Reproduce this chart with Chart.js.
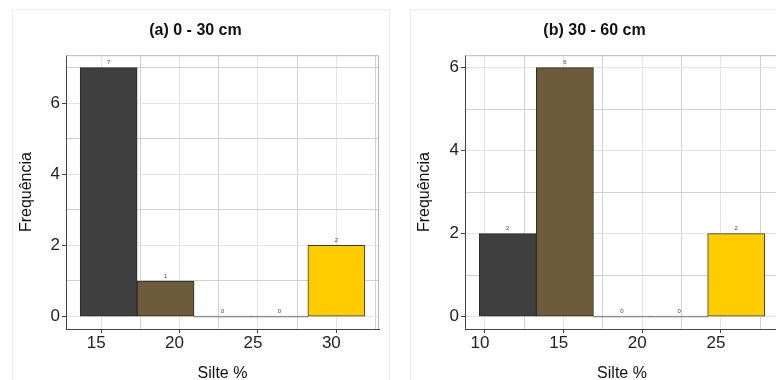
<!DOCTYPE html>
<html>
<head>
<meta charset="utf-8">
<script src="https://cdn.jsdelivr.net/npm/chart.js@4"></script>
<style>
  html, body { margin: 0; padding: 0; background: #fff; }
  body { width: 776px; height: 380px; overflow: hidden; position: relative; }
  .caixa { position: absolute; top: 9px; height: 400px; border: 1px solid #ededed; box-sizing: border-box; }
  .painel { position: absolute; top: 9px; width: 377px; height: 376px; }
</style>
</head>
<body>
<div class="caixa" style="left:12px;width:378px"></div>
<div class="caixa" style="left:410px;width:400px"></div>
<div class="painel" style="left:12px"><canvas id="graficoA"></canvas></div>
<div class="painel" style="left:410px"><canvas id="graficoB"></canvas></div>
<script>
// Dados
const centrosA = [15.48, 19.11, 22.74, 26.37, 30.0];
const frequenciaA = [7, 1, 0, 0, 2];
const ticksXA = [15, 20, 25, 30];

const centrosB = [11.45, 15.08, 18.71, 22.34, 25.97];
const frequenciaB = [2, 6, 0, 0, 2];
const ticksXB = [10, 15, 20, 25];

const ticksY = [0, 2, 4, 6];

const coresBarras = ["#3f3f3f", "#6c5c3b", "#777777", "#777777", "#ffcc00"];
const coresBorda = ["#2a2a2a", "#2a2a2a", "#777777", "#777777", "#3a3a3a"];

const fonte = "'Liberation Sans', Arial, sans-serif";
Chart.defaults.font.family = fonte;

const gradeMaior = "#e4e4e4";
const gradeMenor = "#d0d0d0";

// Rótulos pequenos acima das barras + borda do painel
const rotulosBarras = {
  id: "rotulosBarras",
  beforeDatasetsDraw(chart) {
    const { ctx, chartArea } = chart;
    ctx.save();
    ctx.strokeStyle = "#b5b5b5";
    ctx.lineWidth = 1;
    ctx.beginPath();
    ctx.moveTo(chartArea.left, chartArea.top + 0.5);
    ctx.lineTo(chartArea.right - 0.5, chartArea.top + 0.5);
    ctx.lineTo(chartArea.right - 0.5, chartArea.bottom);
    ctx.stroke();
    ctx.restore();
  },
  afterDatasetsDraw(chart) {
    const { ctx } = chart;
    const meta = chart.getDatasetMeta(0);
    const dados = chart.data.datasets[0].data;
    ctx.save();
    ctx.font = "6px " + fonte;
    ctx.fillStyle = "#444";
    ctx.textAlign = "center";
    ctx.textBaseline = "bottom";
    meta.data.forEach((barra, i) => {
      ctx.fillText(String(dados[i].y), barra.x, Math.min(barra.y, barra.base) - 2);
    });
    ctx.restore();
  },
};

function criarGrafico(id, titulo, centros, frequencia, ticksX, limX, limY, larguraY, padDireita) {
  const dados = centros.map((c, i) => ({ x: c, y: frequencia[i] }));
  return new Chart(document.getElementById(id), {
    type: "bar",
    data: {
      datasets: [
        {
          data: dados,
          backgroundColor: coresBarras,
          borderColor: coresBorda,
          borderWidth: 1,
          borderSkipped: false,
          barPercentage: 1,
          categoryPercentage: 1,
          minBarLength: 1,
          xAxisID: "x",
          yAxisID: "y",
        },
      ],
    },
    options: {
      responsive: true,
      maintainAspectRatio: false,
      animation: false,
      layout: { padding: { left: 0, right: padDireita, top: 0, bottom: 0 } },
      plugins: {
        legend: { display: false },
        tooltip: { enabled: false },
        title: {
          display: true,
          text: titulo,
          color: "#111",
          font: { size: 16, weight: "bold" },
          padding: { top: 12, bottom: 15 },
        },
      },
      scales: {
        x: {
          type: "linear",
          position: "bottom",
          offset: false,
          min: limX[0],
          max: limX[1],
          ticks: {
            stepSize: 5,
            includeBounds: false,
            autoSkip: false,
            maxRotation: 0,
            padding: 0,
            labelOffset: -5,
            color: "#222",
            font: { size: 17 },
            callback: (v) => (ticksX.includes(v) ? String(v) : ""),
          },
          grid: { offset: false, color: gradeMaior, tickLength: 4, tickColor: "#444" },
          border: { color: "#444", width: 1 },
          title: {
            display: true,
            text: "Silte %",
            color: "#111",
            font: { size: 16 },
            padding: { top: 0, bottom: 2 },
          },
          afterFit: (s) => {
            s.height = 56;
          },
        },
        x2: {
          type: "linear",
          position: "bottom",
          offset: false,
          min: limX[0],
          max: limX[1],
          ticks: { stepSize: 2.5, includeBounds: false, display: false },
          grid: {
            offset: false,
            drawTicks: false,
            color: (c) => (c.tick && c.tick.value % 5 === 0 ? "rgba(0,0,0,0)" : gradeMenor),
          },
          border: { display: false },
          afterFit: (s) => {
            s.height = 0;
          },
        },
        y: {
          min: limY[0],
          max: limY[1],
          ticks: {
            stepSize: 1,
            includeBounds: false,
            padding: 2,
            color: "#222",
            font: { size: 17 },
            callback: (v) => (ticksY.includes(v) ? String(v) : ""),
          },
          grid: {
            tickLength: 4,
            color: (c) => (c.tick && ticksY.includes(c.tick.value) ? gradeMaior : gradeMenor),
            tickColor: (c) => (c.tick && ticksY.includes(c.tick.value) ? "#444" : "rgba(0,0,0,0)"),
          },
          border: { color: "#444", width: 1 },
          title: {
            display: true,
            text: "Frequência",
            color: "#111",
            font: { size: 16 },
            padding: { top: 5, bottom: 0 },
          },
          afterFit: (s) => {
            s.width = larguraY;
          },
        },
      },
    },
    plugins: [rotulosBarras],
  });
}

criarGrafico("graficoA", "(a) 0 - 30 cm", centrosA, frequenciaA, ticksXA, [12.76, 32.72], [-0.35, 7.35], 54, 10);
criarGrafico("graficoB", "(b) 30 - 60 cm", centrosB, frequenciaB, ticksXB, [8.73, 28.69], [-0.3, 6.3], 55, 8);
</script>
</body>
</html>
